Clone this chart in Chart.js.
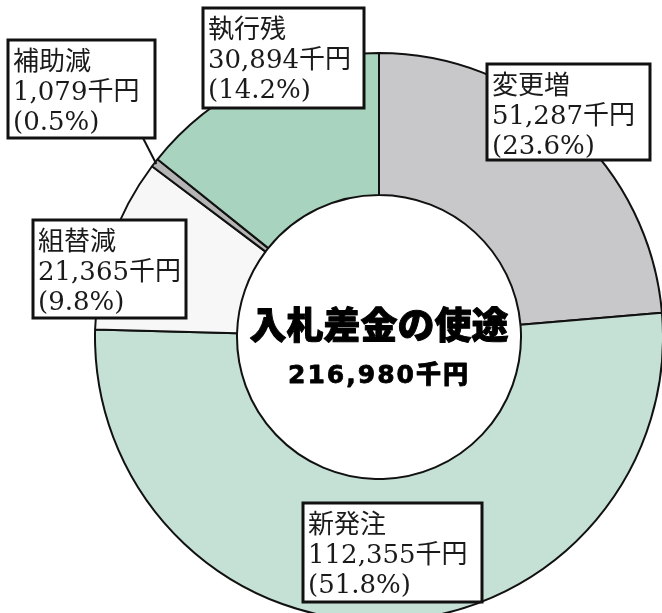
<!DOCTYPE html>
<html>
<head>
<meta charset="utf-8">
<script src="https://cdn.jsdelivr.net/npm/chart.js@4/dist/chart.umd.min.js"></script>
<style>
  body { margin: 0; background: #fff; }
  #wrap { width: 662px; height: 613px; position: relative; overflow: hidden; }
</style>
</head>
<body>
<div id="wrap"><canvas id="chart" width="662" height="613"></canvas></div>
<script>
// 入札差金の使途 (千円)
const categories = ['変更増', '新発注', '組替減', '補助減', '執行残'];
const amounts = [51287, 112355, 21365, 1079, 30894];
const percents = ['23.6', '51.8', '9.8', '0.5', '14.2'];
const totalLabel = '216,980千円';
const centerTitle = '入札差金の使途';
const sliceColors = ['#c8c8cb', '#c5e0d4', '#f7f7f7', '#b4b4b4', '#a8d4bf'];

// ラベル枠の位置 (left, top, right, bottom)
const boxes = [
    [487, 64, 650, 160],
    [303, 503, 482, 602],
    [33, 220, 186, 318],
    [8, 40, 155, 138],
    [203, 8, 364, 108]
];

const labelPlugin = {
    id: 'labels',
    afterDraw(chart) {
        const ctx = chart.ctx;
        const arcs = chart.getDatasetMeta(0).data;
        const cx = arcs[0].x, cy = arcs[0].y;
        ctx.save();

        // 補助減の引出線
        const a = arcs[3];
        const mid = (a.startAngle + a.endAngle) / 2;
        ctx.strokeStyle = '#111';
        ctx.lineWidth = 2;
        ctx.beginPath();
        ctx.moveTo(143, 138);
        ctx.lineTo(cx + Math.cos(mid) * (a.outerRadius - 2), cy + Math.sin(mid) * (a.outerRadius - 2));
        ctx.stroke();

        // ラベル枠
        categories.forEach((name, i) => {
            const [l, t, r, b] = boxes[i];
            ctx.fillStyle = '#fff';
            ctx.fillRect(l, t, r - l, b - t);
            ctx.strokeStyle = '#111';
            ctx.lineWidth = 3;
            ctx.strokeRect(l, t, r - l, b - t);
            const lines = [name, amounts[i].toLocaleString('en-US') + '千円', '(' + percents[i] + '%)'];
            ctx.fillStyle = '#1a1a1a';
            ctx.font = '26px "DejaVu Serif", "Noto Sans CJK JP"';
            ctx.textBaseline = 'middle';
            ctx.textAlign = 'left';
            lines.forEach((s, k) => {
                ctx.fillText(s, l + 5, t + 23 + k * 30);
            });
        });

        // 中央の文字
        ctx.fillStyle = '#000';
        ctx.strokeStyle = '#000';
        ctx.lineJoin = 'round';
        ctx.textAlign = 'center';
        ctx.textBaseline = 'middle';
        ctx.font = '900 37px "Noto Sans CJK JP"';
        ctx.lineWidth = 1;
        ctx.fillText(centerTitle, cx, cy - 12);
        ctx.strokeText(centerTitle, cx, cy - 12);
        ctx.font = '900 25px "DejaVu Sans", "Noto Sans CJK JP"';
        ctx.letterSpacing = '2px';
        ctx.lineWidth = 0.8;
        ctx.fillText(totalLabel, cx, cy + 39);
        ctx.strokeText(totalLabel, cx, cy + 39);
        ctx.restore();
    }
};

new Chart(document.getElementById('chart'), {
    type: 'doughnut',
    data: {
        labels: categories,
        datasets: [{
            data: amounts,
            backgroundColor: sliceColors,
            borderColor: '#111',
            borderWidth: 2,
            radius: 284,
            clip: false
        }]
    },
    options: {
        responsive: false,
        animation: false,
        cutout: '50%',
        layout: { padding: { left: 96, right: 0, top: 61, bottom: 0 } },
        plugins: {
            legend: { display: false },
            tooltip: { enabled: false }
        }
    },
    plugins: [labelPlugin]
});
</script>
</body>
</html>
